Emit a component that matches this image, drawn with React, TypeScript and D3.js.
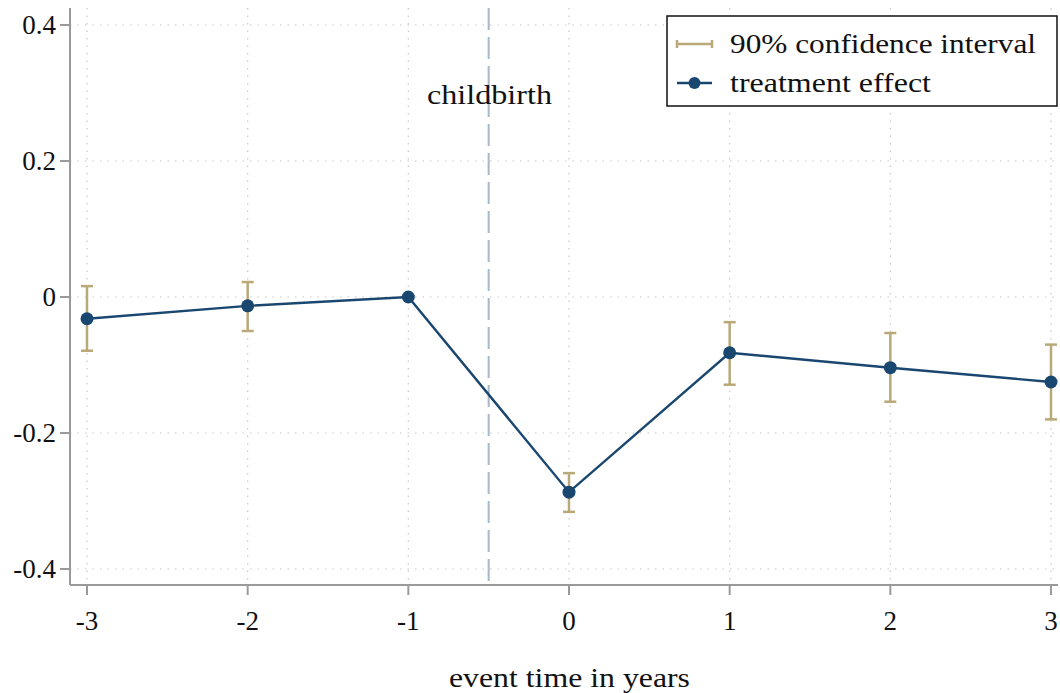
import React from "react";
import { scaleLinear, line } from "d3";

const years = [-3, -2, -1, 0, 1, 2, 3];
const effect = [-0.032, -0.013, 0, -0.287, -0.082, -0.104, -0.125];
const ciLow = [-0.079, -0.05, null, -0.316, -0.129, -0.154, -0.18];
const ciHigh = [0.016, 0.022, null, -0.259, -0.037, -0.053, -0.07];
const yTicks = [0.4, 0.2, 0, -0.2, -0.4];
const yTickLabels = ["0.4", "0.2", "0", "-0.2", "-0.4"];
const eventLine = -0.5;

const navy = "#1a476f";
const khaki = "#b9a978";
const gridGray = "#c8c8c8";
const axisGray = "#9a9a9a";
const font = "'Liberation Serif', 'DejaVu Serif', serif";

const W = 1060;
const H = 693;
const left = 70;
const right = 1058;
const top = 8;
const bottom = 585;

export default function App() {
  const x = scaleLinear().domain([-3, 3]).range([87, 1051]);
  const y = scaleLinear().domain([-0.4, 0.4]).range([569, 25]);

  const pts = years.map((yr, i) => ({ x: yr, y: effect[i] }));
  const path = line<{ x: number; y: number }>()
    .x(d => x(d.x))
    .y(d => y(d.y))(pts);

  return (
    <svg
      width={W}
      height={H}
      style={{ position: "absolute", left: 0, top: 0, background: "#fff" }}
      fontFamily={font}
    >
      {/* grid */}
      {yTicks.map(t => (
        <line key={"gy" + t} x1={left} x2={right} y1={y(t)} y2={y(t)}
          stroke={gridGray} strokeWidth={1.2} strokeDasharray="1.5 6" />
      ))}
      {years.map(t => (
        <line key={"gx" + t} x1={x(t)} x2={x(t)} y1={top} y2={bottom}
          stroke={gridGray} strokeWidth={1.2} strokeDasharray="1.5 6" />
      ))}

      {/* axes */}
      <line x1={left} x2={left} y1={top} y2={bottom} stroke={axisGray} strokeWidth={2} />
      <line x1={left} x2={right} y1={bottom} y2={bottom} stroke={axisGray} strokeWidth={2} />
      {yTicks.map((t, i) => (
        <g key={"yt" + t}>
          <line x1={left - 10} x2={left} y1={y(t)} y2={y(t)} stroke={axisGray} strokeWidth={2} />
          <text x={left - 14} y={y(t)} dy="0.35em" textAnchor="end" fontSize={27} fill="#111">
            {yTickLabels[i]}
          </text>
        </g>
      ))}
      {years.map(t => (
        <g key={"xt" + t}>
          <line x1={x(t)} x2={x(t)} y1={bottom} y2={bottom + 10} stroke={axisGray} strokeWidth={2} />
          <text x={x(t)} y={621} dy="0.35em" textAnchor="middle" fontSize={27} fill="#111">
            {t}
          </text>
        </g>
      ))}
      <text x={449} y={678} dy="0.35em" fontSize={27} fill="#111"
        textLength={241} lengthAdjust="spacingAndGlyphs">
        event time in years
      </text>

      {/* event line */}
      <line x1={x(eventLine)} x2={x(eventLine)} y1={top} y2={bottom}
        stroke="#a9b8c6" strokeWidth={2} strokeDasharray="22 7" />
      <text x={427} y={95} dy="0.35em" fontSize={27} fill="#111"
        textLength={125} lengthAdjust="spacingAndGlyphs">
        childbirth
      </text>

      {/* confidence intervals */}
      {years.map((yr, i) => {
        const lo = ciLow[i];
        const hi = ciHigh[i];
        if (lo === null || hi === null) return null;
        return (
          <g key={"ci" + yr} stroke={khaki} strokeWidth={2.5}>
            <line x1={x(yr)} x2={x(yr)} y1={y(lo)} y2={y(hi)} />
            <line x1={x(yr) - 6} x2={x(yr) + 6} y1={y(lo)} y2={y(lo)} />
            <line x1={x(yr) - 6} x2={x(yr) + 6} y1={y(hi)} y2={y(hi)} />
          </g>
        );
      })}

      {/* effect line */}
      <path d={path || ""} fill="none" stroke={navy} strokeWidth={2.4} />
      {pts.map(d => (
        <circle key={"p" + d.x} cx={x(d.x)} cy={y(d.y)} r={6.5} fill={navy} />
      ))}

      {/* legend */}
      <rect x={667} y={16} width={390} height={90} fill="#fff" stroke="#111" strokeWidth={1.5} />
      <g stroke={khaki} strokeWidth={2.5}>
        <line x1={677} x2={712} y1={44} y2={44} />
        <line x1={677} x2={677} y1={40} y2={48} />
        <line x1={712} x2={712} y1={40} y2={48} />
      </g>
      <text x={730} y={44} dy="0.35em" fontSize={27} fill="#111"
        textLength={306} lengthAdjust="spacingAndGlyphs">90% confidence interval</text>
      <line x1={677} x2={712} y1={83} y2={83} stroke={navy} strokeWidth={2.4} />
      <circle cx={694.5} cy={83} r={6} fill={navy} />
      <text x={730} y={83} dy="0.35em" fontSize={27} fill="#111"
        textLength={201} lengthAdjust="spacingAndGlyphs">treatment effect</text>
    </svg>
  );
}
